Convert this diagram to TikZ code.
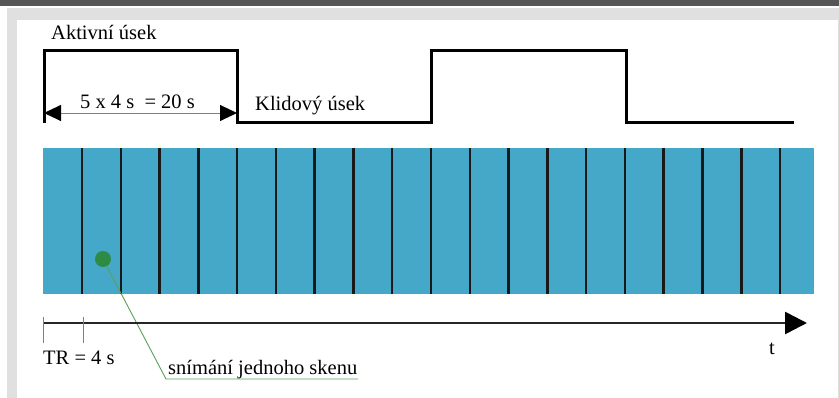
\documentclass[tikz,border=0pt]{standalone}
\usepackage{fontspec}
\setmainfont{Liberation Serif}
\usetikzlibrary{arrows.meta}
\definecolor{scanblue}{HTML}{45A8C8}
\definecolor{dotgreen}{HTML}{2E8B45}
\definecolor{leadgreen}{HTML}{5AA05A}
\definecolor{barcol}{HTML}{565656}
\definecolor{framecol}{HTML}{E0E0E0}
\begin{document}
\begin{tikzpicture}[x=1pt,y=-1pt,
  lbl/.style={inner sep=0, anchor=base west, font=\fontsize{20.5}{24}\selectfont},
  wave/.style={line width=3, line join=miter, black},
  gridline/.style={line width=2.5, black!90},
  tick/.style={gray, line width=0.8},
  dimline/.style={gray, line width=0.9, {Triangle[length=17,width=16,color=black]}-{Triangle[length=17,width=16,color=black]}},
  axis/.style={line width=2.6, black!85, -{Triangle[length=22,width=22,color=black]}},
  leader/.style={leadgreen, line width=0.9}]
\useasboundingbox (0,0) rectangle (839,398);
% frame
\fill[barcol] (0,0) rectangle (839,6);
\fill[framecol] (7,8.5) rectangle (839,398);
\fill[white] (17,20) rectangle (837.5,398);
% waveform
\draw[wave] (44,123) -- (44,51) -- (237,51) -- (237,123) -- (431,123) -- (431,51) -- (626,51) -- (626,123) -- (794,123);
% dimension arrow
\coordinate (dl) at (44,113);
\coordinate (dr) at (237,113);
\draw[dimline] (dl) -- (dr);
\node[lbl] (dimtxt) at (80,109) {5 x 4 s \ = 20 s};
\node[lbl] (akt) at (51,40) {Aktivní úsek};
\node[lbl] (klid) at (255,111) {Klidový úsek};
% scans
\fill[scanblue] (43,148) rectangle (814,294);
\foreach \i in {0,...,18} \draw[gridline] ({82+38.78*\i},148) -- ++(0,146);
% green marker
\node[circle, fill=dotgreen, minimum size=16, inner sep=0] (dot) at (103,259) {};
\coordinate (bend) at (166,379);
\coordinate (lend) at (358,379);
\draw[leader] (dot) -- (bend) -- (lend);
\node[lbl] (scan) at (168,374) {snímání jednoho skenu};
% time axis
\coordinate (a0) at (43,323);
\coordinate (a1) at (807,323);
\draw[axis] (a0) -- (a1);
\coordinate (t0a) at (43,317); \coordinate (t0b) at (43,343);
\coordinate (t1a) at (83,317); \coordinate (t1b) at (83,343);
\draw[tick] (t0a) -- (t0b);
\draw[tick] (t1a) -- (t1b);
\node[lbl] (tr) at (43,365) {TR = 4 s};
\node[lbl] (t) at (769,355) {t};
\end{tikzpicture}
\end{document}
